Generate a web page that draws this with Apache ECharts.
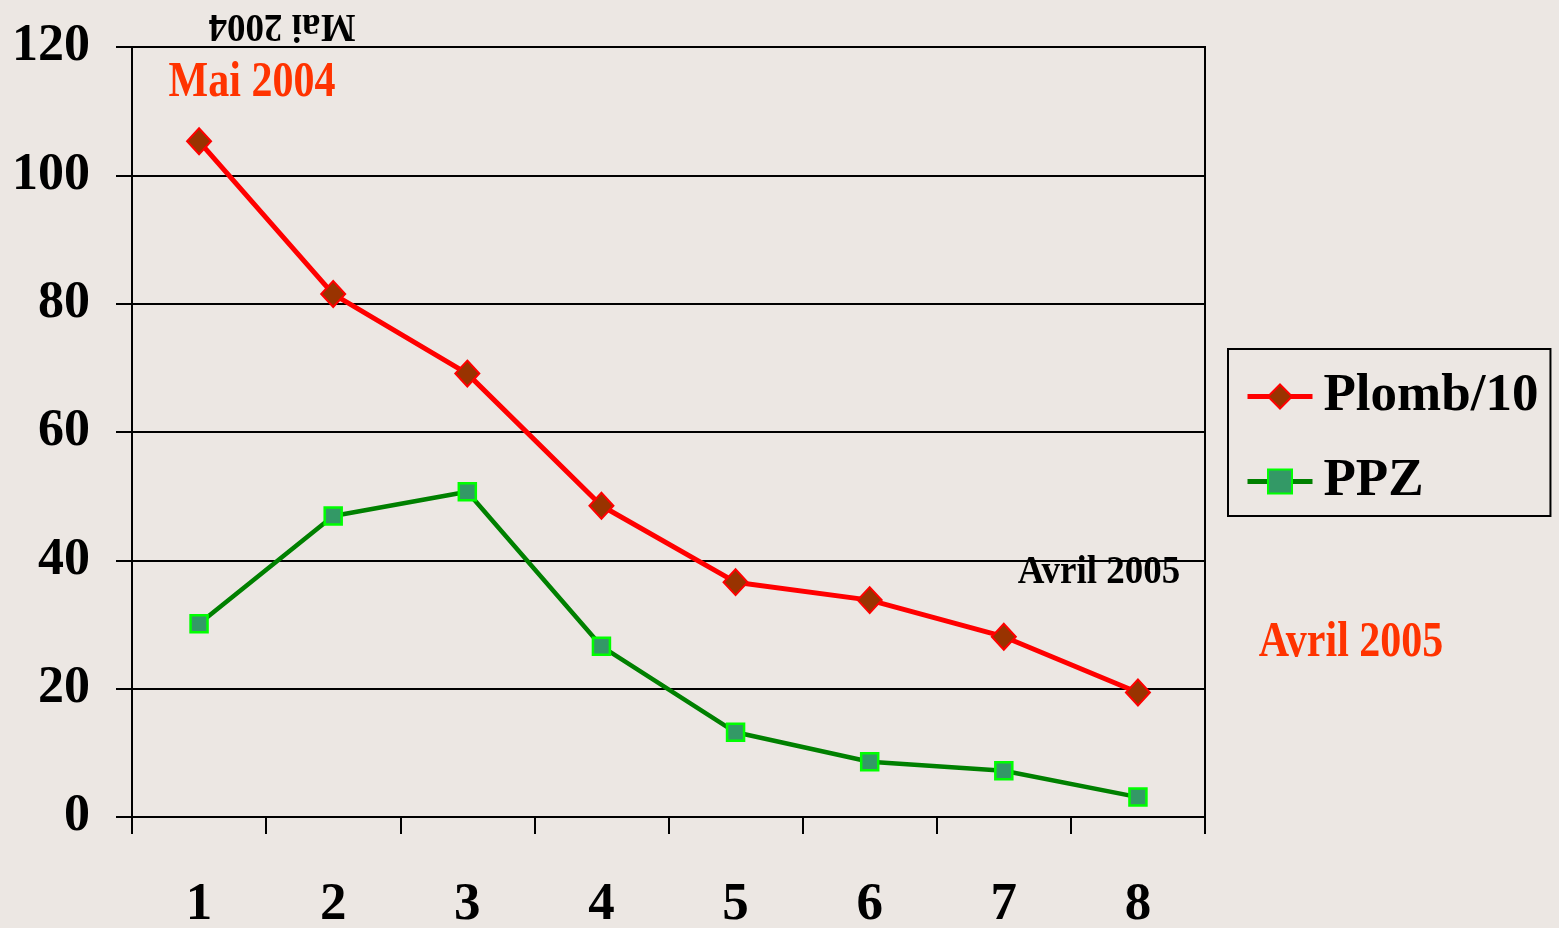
<!DOCTYPE html>
<html>
<head>
<meta charset="utf-8">
<script src="https://cdn.jsdelivr.net/npm/echarts@6/dist/echarts.min.js"></script>
<style>
html,body{margin:0;padding:0;background:#ECE7E3;}
#c{width:1559px;height:928px;}
</style>
</head>
<body>
<div id="c"></div>
<script>
const categories = ['1','2','3','4','5','6','7','8'];
const plombValues = [105.3, 81.5, 69.1, 48.5, 36.6, 33.8, 28.1, 19.4];
const ppzValues = [30.1, 46.9, 50.7, 26.6, 13.2, 8.6, 7.2, 3.1];
const seriesNames = ['Plomb/10', 'PPZ'];
const yTicks = {min: 0, max: 120, interval: 20};

const FONT = "'Liberation Serif', 'Times New Roman', serif";
const chart = echarts.init(document.getElementById('c'));
chart.setOption({
  backgroundColor: '#ECE7E3',
  animation: false,
  grid: {left: 132, right: 354, top: 47, bottom: 111, outerBoundsMode: 'none', containLabel: false, show: true, borderColor: '#000', borderWidth: 2, backgroundColor: 'transparent'},
  xAxis: {
    type: 'category', data: categories, boundaryGap: true,
    axisLine: {show: true, lineStyle: {color: '#000', width: 2}},
    axisTick: {show: true, interval: 0, length: 17, lineStyle: {color: '#000', width: 2}},
    axisLabel: {color: '#000', fontFamily: FONT, fontWeight: 'bold', fontSize: 53, margin: 62, interval: 0},
    splitLine: {show: false}
  },
  yAxis: {
    type: 'value', min: yTicks.min, max: yTicks.max, interval: yTicks.interval,
    axisLine: {show: true, lineStyle: {color: '#000', width: 2}},
    axisTick: {show: true, length: 16, lineStyle: {color: '#000', width: 2}},
    axisLabel: {color: '#000', fontFamily: FONT, fontWeight: 'bold', fontSize: 52, margin: 42},
    splitLine: {show: true, lineStyle: {color: '#000', width: 2}}
  },
  legend: {
    orient: 'vertical', left: 1228, top: 349,
    padding: [21, 12, 8, 17],
    itemGap: 32, itemWidth: 65, itemHeight: 30,
    borderColor: '#000', borderWidth: 2,
    textStyle: {color: '#000', fontFamily: FONT, fontWeight: 'bold', fontSize: 53, padding: [0,0,0,6]},
    data: [
      {name: seriesNames[0], lineStyle: {width: 5, color: '#FF0000'}},
      {name: seriesNames[1], lineStyle: {width: 5, color: '#008000'}}
    ]
  },
  series: [
    {
      name: seriesNames[0], type: 'line', data: plombValues,
      symbol: 'diamond', symbolSize: [24, 26],
      lineStyle: {color: '#FF0000', width: 5},
      itemStyle: {color: '#993300', borderColor: '#FF0000', borderWidth: 2},
      z: 3
    },
    {
      name: seriesNames[1], type: 'line', data: ppzValues,
      symbol: 'rect', symbolSize: 17,
      lineStyle: {color: '#008000', width: 4.5},
      itemStyle: {color: '#339966', borderColor: '#00FF00', borderWidth: 2.5},
      z: 3
    }
  ],
  graphic: [
    {type: 'text', x: 282, y: 26, rotation: Math.PI, scaleY: 1.1, style: {text: 'Mai 2004', fill: '#000', font: 'bold 37px ' + FONT, align: 'center', verticalAlign: 'middle'}},
    {type: 'text', x: 252, y: 83, scaleY: 1.2, style: {text: 'Mai 2004', fill: '#FF3300', font: 'bold 42px ' + FONT, align: 'center', verticalAlign: 'middle'}},
    {type: 'text', x: 1099, y: 572, scaleY: 1.1, style: {text: 'Avril 2005', fill: '#000', font: 'bold 37px ' + FONT, align: 'center', verticalAlign: 'middle'}},
    {type: 'text', x: 1351, y: 643, scaleY: 1.2, style: {text: 'Avril 2005', fill: '#FF3300', font: 'bold 42px ' + FONT, align: 'center', verticalAlign: 'middle'}}
  ]
});
</script>
</body>
</html>
